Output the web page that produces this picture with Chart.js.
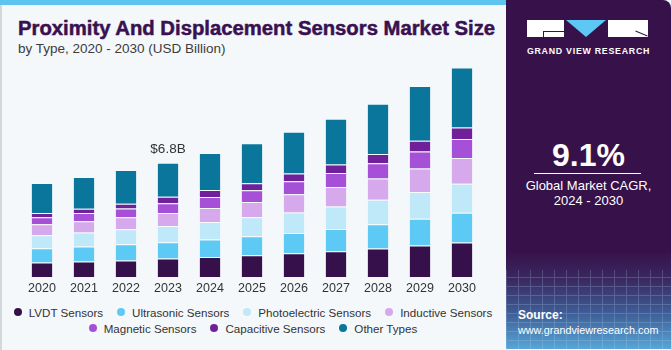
<!DOCTYPE html>
<html>
<head>
<meta charset="utf-8">
<script src="https://cdn.jsdelivr.net/npm/chart.js@4.4.1/dist/chart.umd.min.js"></script>
<style>
body{margin:0;width:671px;height:350px;overflow:hidden;background:#f4f8fb;font-family:"Liberation Sans",Arial,sans-serif;position:relative}
#left{position:absolute;left:0;top:0;width:506px;height:350px;background:#f4f8fb;border-left:2px solid #d3d8dc;box-sizing:border-box}
#stripe{position:absolute;left:0;top:0;width:506px;height:5px;background:#5dc5ef}
#title{position:absolute;left:18px;top:17px;font-size:20.3px;font-weight:bold;color:#3a1150;-webkit-text-stroke:0.5px #3a1150;white-space:nowrap}
#sub{position:absolute;left:18px;top:41px;font-size:13.5px;color:#3c3c3c;white-space:nowrap}
#wrap{position:absolute;left:0;top:60px;width:505px;height:240px}
#legend{position:absolute;left:0;top:304px;width:506px;font-size:11.6px;color:#333}
.row{display:flex;justify-content:center;height:16px;align-items:center}
.item{display:flex;align-items:center;margin:0 7px;white-space:nowrap}
.dot{width:8px;height:8px;border-radius:50%;margin-right:7px}
#panel{position:absolute;left:506px;top:0;width:165px;height:349px;border-top-right-radius:8px;overflow:hidden;
 background:linear-gradient(to bottom,#37124a 0%,#37124a 72%,#3a2860 80%,#3f5f98 90%,#57a6d8 100%)}
#grid{position:absolute;left:0;top:270px;width:165px;height:80px;opacity:0.22;
 background-image:repeating-linear-gradient(90deg,#bcd8f0 0 1px,transparent 1px 12px),repeating-linear-gradient(0deg,#bcd8f0 0 1px,transparent 1px 9px)}
.blk{position:absolute;background:#fff}
#tri{position:absolute;left:60px;top:20px;width:0;height:0;border-left:20px solid transparent;border-right:20px solid transparent;border-top:17px solid #5cc8f3}
#brand{position:absolute;left:0;width:165px;top:46px;text-align:center;color:#fff;font-size:8.8px;font-weight:bold;letter-spacing:0.75px}
#cagr{position:absolute;left:0;width:165px;top:137px;text-align:center;color:#fff;font-size:32px;font-weight:bold}
#hr{position:absolute;left:28px;top:173px;width:107px;height:1px;background:#fff}
#cagrtxt{position:absolute;left:0;width:165px;top:178px;text-align:center;color:#fff;font-size:13px;line-height:15px}
#src{position:absolute;left:12px;top:308px;color:#fff;font-size:10.8px;line-height:15px}
#src b{font-size:12px}
</style>
</head>
<body>
<div id="left"></div>
<div id="stripe"></div>
<div id="title">Proximity And Displacement Sensors Market Size</div>
<div id="sub">by Type, 2020 - 2030 (USD Billion)</div>
<div id="wrap"><canvas id="chart"></canvas></div>
<div id="legend"></div>
<div id="panel">
  <div id="grid"></div>
  <div class="blk" style="left:21px;top:20px;width:37px;height:17px"></div>
  <div style="position:absolute;left:37px;top:31px;width:21px;height:1px;background:#37124a"></div>
  <div style="position:absolute;left:37px;top:31px;width:1px;height:6px;background:#37124a"></div>
  <div id="tri"></div>
  <div class="blk" style="left:102px;top:20px;width:40px;height:17px"></div>
  <div style="position:absolute;left:129px;top:33px;width:13px;height:1px;background:#37124a;transform:rotate(22deg)"></div>
  <div id="brand">GRAND VIEW RESEARCH</div>
  <div id="cagr">9.1%</div>
  <div id="hr"></div>
  <div id="cagrtxt">Global Market CAGR,<br>2024 - 2030</div>
  <div id="src"><b>Source:</b><br>www.grandviewresearch.com</div>
</div>
<script>
var years = ["2020","2021","2022","2023","2024","2025","2026","2027","2028","2029","2030"];
var seriesNames = ["LVDT Sensors","Ultrasonic Sensors","Photoelectric Sensors","Inductive Sensors","Magnetic Sensors","Capacitive Sensors","Other Types"];
var seriesColors = ["#36104a","#5ccaf5","#bfe9f9","#d5a9ec","#a650d7","#70219a","#0b769c"];
// USD Billion
var lvdt        = [0.86,0.92,0.98,1.10,1.19,1.29,1.41,1.53,1.69,1.87,2.05];
var ultrasonic  = [0.85,0.89,0.97,0.96,1.04,1.13,1.21,1.33,1.45,1.59,1.77];
var photo       = [0.77,0.83,0.89,0.97,1.04,1.13,1.21,1.33,1.45,1.59,1.73];
var inductive   = [0.66,0.68,0.72,0.78,0.84,0.91,1.09,1.17,1.27,1.41,1.53];
var magnetic    = [0.42,0.48,0.52,0.58,0.65,0.70,0.77,0.82,0.91,1.01,1.13];
var capacitive  = [0.24,0.26,0.28,0.38,0.42,0.42,0.46,0.52,0.54,0.64,0.68];
var other       = [1.79,1.89,2.01,2.03,2.19,2.37,2.49,2.72,3.00,3.26,3.58];
var seriesValues = [lvdt,ultrasonic,photo,inductive,magnetic,capacitive,other];
var labelYear = "2023";

// legend (html)
var leg = document.getElementById("legend");
[[0,1,2,3],[4,5,6]].forEach(function(r){
    var row = document.createElement("div");
    row.className = "row";
    r.forEach(function(i){
        var it = document.createElement("div");
        it.className = "item";
        it.innerHTML = '<span class="dot" style="background:'+seriesColors[i]+'"></span>'+seriesNames[i];
        row.appendChild(it);
    });
    leg.appendChild(row);
});

var totalLabel = {
    id: "totalLabel",
    afterDatasetsDraw: function(chart){
        var i = years.indexOf(labelYear);
        var meta = chart.getDatasetMeta(chart.data.datasets.length-1);
        var bar = meta.data[i];
        var total = 0;
        seriesValues.forEach(function(s){ total += s[i]; });
        var ctx = chart.ctx;
        ctx.save();
        ctx.font = '13.5px "Liberation Sans", Arial';
        ctx.fillStyle = "#333";
        ctx.textAlign = "center";
        ctx.textBaseline = "middle";
        ctx.fillText("$"+total.toFixed(1)+"B", bar.x, bar.y-13);
        ctx.restore();
    }
};

var datasets = seriesNames.map(function(n,k){
    return {
        label: n,
        data: seriesValues[k],
        backgroundColor: seriesColors[k],
        borderColor: "rgba(255,255,255,0.25)",
        borderWidth: 1,
        stack: "a"
    };
});

var ctx = document.getElementById("chart");
var myChart = new Chart(ctx, {
    type: "bar",
    data: { labels: years, datasets: datasets },
    plugins: [totalLabel],
    options: {
        responsive: true,
        maintainAspectRatio: false,
        animation: false,
        layout: { padding: { left: 21, right: 22, top: 1, bottom: 0 } },
        plugins: { legend: { display: false }, tooltip: { enabled: false } },
        datasets: { bar: { categoryPercentage: 1, barPercentage: 0.53 } },
        scales: {
            x: {
                stacked: true,
                grid: { display: false, drawTicks: false },
                border: { display: false },
                ticks: { color: "#333", font: { family: "Liberation Sans", size: 12.5 }, padding: 4 }
            },
            y: {
                stacked: true,
                display: false,
                min: 0,
                max: 12.85
            }
        }
    }
});
</script>
</body>
</html>
